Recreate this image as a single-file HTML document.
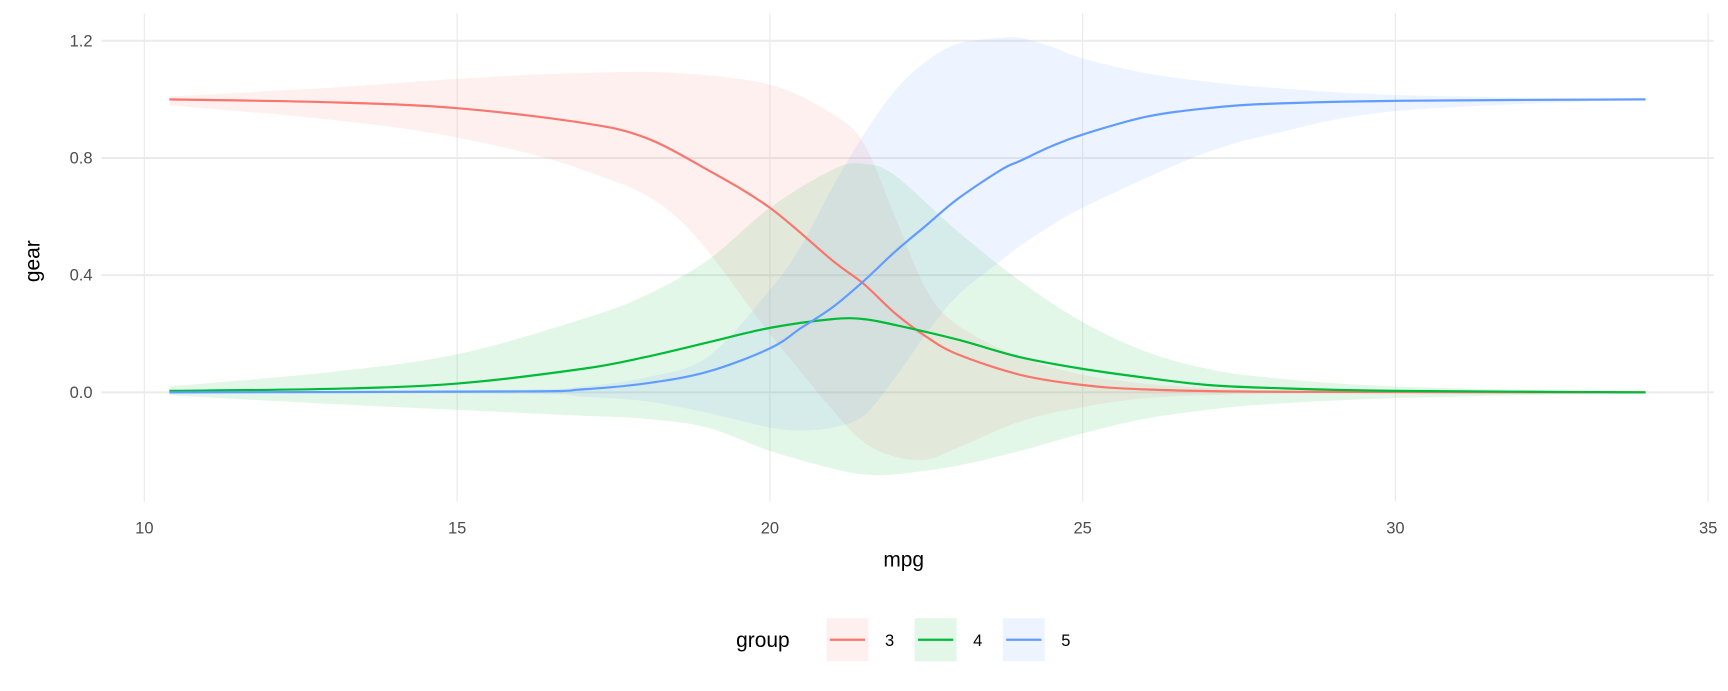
<!DOCTYPE html>
<html><head><meta charset="utf-8"><style>
html,body{margin:0;padding:0;background:#fff;}
svg{display:block;font-family:"Liberation Sans",sans-serif;}
</style></head><body>
<svg width="1728" height="691" viewBox="0 0 1568 627" xmlns="http://www.w3.org/2000/svg">
<g id="grid"></g>
<g id="ribbons"></g>
<g id="lines"></g>
<g id="axes"></g>
<text x="820" y="514" font-size="19" text-anchor="middle" fill="#000">mpg</text>
<text transform="translate(36,237) rotate(-90)" font-size="19" text-anchor="middle" fill="#000">gear</text>
<g id="legend">
<text x="668" y="587" font-size="19" fill="#000">group</text>
</g>
</svg>
<script>
const xTicks=[10,15,20,25,30,35];
const yTicks=[0.0,0.4,0.8,1.2];
const yTickLabels=["0.0","0.4","0.8","1.2"];
const groups=["3","4","5"];
const colors=["#F8766D","#00BA38","#619CFF"];
const x3=[10.4,13,15,17,18,19,20,21,21.5,22,22.5,23,24,25,26,28,34];
const line3=[1.0,0.99,0.97,0.92,0.87,0.76,0.63,0.45,0.37,0.27,0.19,0.13,0.06,0.025,0.01,0.002,0];
const xr3=[10.4,13,15,17,18.5,20,21,21.5,22,22.5,23,24,25,26,27,28,30,34];
const upper3=[1.01,1.04,1.07,1.09,1.09,1.05,0.95,0.85,0.6,0.35,0.23,0.12,0.06,0.03,0.015,0.008,0.003,0];
const lower3=[0.98,0.93,0.87,0.76,0.6,0.2,-0.06,-0.17,-0.22,-0.23,-0.19,-0.1,-0.05,-0.02,-0.01,-0.004,-0.001,0];
const x4=[10.4,13,15,17,18,19,20,21,21.5,22,23,24,25,26,27,28,30,34];
const line4=[0.005,0.012,0.03,0.08,0.12,0.17,0.22,0.25,0.25,0.23,0.18,0.12,0.08,0.05,0.025,0.015,0.005,0];
const upper4=[0.02,0.07,0.13,0.25,0.33,0.45,0.63,0.76,0.78,0.74,0.55,0.38,0.24,0.14,0.08,0.05,0.02,0];
const lower4=[-0.01,-0.04,-0.06,-0.08,-0.09,-0.12,-0.2,-0.26,-0.28,-0.28,-0.25,-0.2,-0.14,-0.09,-0.06,-0.04,-0.02,0];
const x5=[10.4,16,17,18,19,20,20.5,21,21.5,22,22.5,23,23.7,24,24.5,25,26,27,28,30,34];
const line5=[0,0.003,0.01,0.03,0.07,0.15,0.22,0.29,0.38,0.48,0.57,0.66,0.76,0.79,0.84,0.88,0.94,0.97,0.985,0.995,1.0];
const upper5=[0,0.01,0.02,0.05,0.12,0.35,0.5,0.7,0.88,1.03,1.13,1.19,1.21,1.21,1.18,1.14,1.09,1.06,1.04,1.015,1.0];
const lower5=[0,-0.005,-0.015,-0.03,-0.07,-0.12,-0.13,-0.12,-0.08,0.05,0.2,0.33,0.45,0.5,0.57,0.63,0.73,0.82,0.88,0.96,1.0];

const NS="http://www.w3.org/2000/svg";
function X(v){return 131+(v-10)*(1550-131)/25;}
function Y(v){return 356-v*(356-37)/1.2;}
function mk(tag,attrs,parent){const e=document.createElementNS(NS,tag);for(const k in attrs)e.setAttribute(k,attrs[k]);parent.appendChild(e);return e;}
function smooth(p,start){
 let d=start?('M'+p[0][0]+','+p[0][1]):('L'+p[0][0]+','+p[0][1]);
 for(let i=0;i<p.length-1;i++){
  const p0=p[Math.max(0,i-1)],p1=p[i],p2=p[i+1],p3=p[Math.min(p.length-1,i+2)];
  const c1=[p1[0]+(p2[0]-p0[0])/6,p1[1]+(p2[1]-p0[1])/6];
  const c2=[p2[0]-(p3[0]-p1[0])/6,p2[1]-(p3[1]-p1[1])/6];
  d+=' C'+c1[0]+','+c1[1]+' '+c2[0]+','+c2[1]+' '+p2[0]+','+p2[1];
 }
 return d;
}
const grid=document.getElementById('grid'),axes=document.getElementById('axes');
xTicks.forEach(t=>{
 const l=mk('line',{x1:X(t),x2:X(t),y1:12,y2:455,stroke:'#ebebeb','stroke-width':1.1},grid);
 
 
 const tx=mk('text',{x:X(t),y:484,'font-size':15,'text-anchor':'middle',fill:'#4d4d4d'},axes);
 tx.textContent=String(t);
 
 
});
yTicks.forEach((t,i)=>{
 const l=mk('line',{x1:92,x2:1555,y1:Y(t),y2:Y(t),stroke:'#ebebeb','stroke-width':1.8},grid);
 
 
 const tx=mk('text',{x:84,y:Y(t)+5,'font-size':15,'text-anchor':'end',fill:'#4d4d4d'},axes);
 tx.textContent=yTickLabels[i];
 
 
});
const series=[[x3,line3,xr3,upper3,lower3],[x4,line4,x4,upper4,lower4],[x5,line5,x5,upper5,lower5]];
const rib=document.getElementById('ribbons'),lin=document.getElementById('lines');
series.forEach((s,i)=>{
 const [xl,yl,xr,up,lo]=s;
 const top=xr.map((x,j)=>[X(x),Y(up[j])]);
 const bot=xr.map((x,j)=>[X(x),Y(lo[j])]).reverse();
 const p=mk('path',{d:smooth(top,true)+' '+smooth(bot,false)+' Z',fill:colors[i],'fill-opacity':0.11,stroke:'none'},rib);
 
 
 const l=mk('path',{d:smooth(xl.map((x,j)=>[X(x),Y(yl[j])]),true),fill:'none',stroke:colors[i],'stroke-width':2,'stroke-linejoin':'round'},lin);
 
 
});
const leg=document.getElementById('legend');
groups.forEach((g,i)=>{
 const x0=750+i*80;
 const r=mk('rect',{x:x0,y:561,width:38,height:39,fill:colors[i],'fill-opacity':0.11},leg);
 
 
 const l=mk('line',{x1:x0+3,x2:x0+35,y1:580.5,y2:580.5,stroke:colors[i],'stroke-width':2},leg);
 
 
 const t=mk('text',{x:x0+53,y:586,'font-size':15,fill:'#000'},leg);
 t.textContent=g;
 
 
});
</script>
</body></html>
